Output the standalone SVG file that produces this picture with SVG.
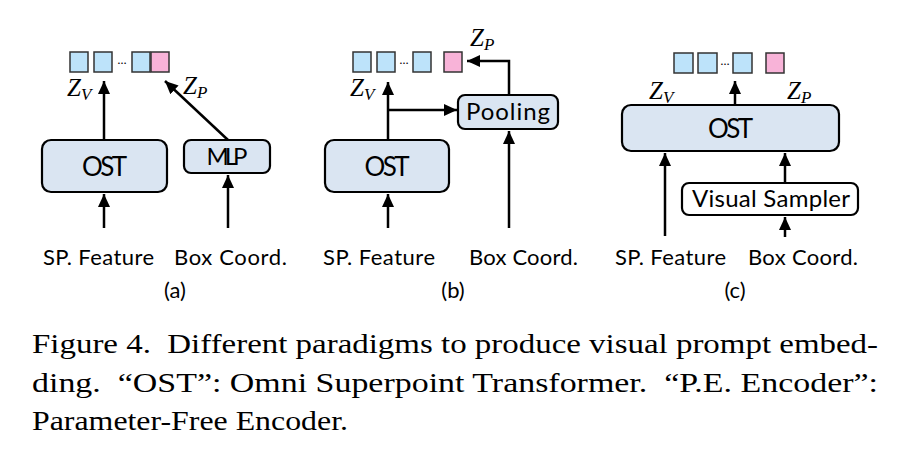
<svg xmlns="http://www.w3.org/2000/svg" width="907" height="466" viewBox="0 0 907 466">
<defs>
<marker id="ah" markerUnits="userSpaceOnUse" markerWidth="13" markerHeight="12" refX="13" refY="6" orient="auto">
<path d="M0,0 L13,6 L0,12 z" fill="#000"/>
</marker>
<style>
.box{fill:#dae5f2;stroke:#000;stroke-width:2.2}
.wbox{fill:#fff;stroke:#000;stroke-width:2.2}
.sq{fill:#bde3fa;stroke:#333;stroke-width:1.5}
.pk{fill:#f8b3d8;stroke:#333;stroke-width:1.5}
.ar{fill:none;stroke:#000;stroke-width:2.5;marker-end:url(#ah)}
.lbl{font-size:22px;fill:#000}
.big{font-size:26px;fill:#000;text-anchor:middle}
.mid{font-size:24px;fill:#000;text-anchor:middle}
.dots{font-size:12px;fill:#000;text-anchor:middle}
.z{font-style:italic;font-size:25px;fill:#000}
.zs{font-size:17px}
.cap{font-size:27px;fill:#000;white-space:pre}
</style>
</defs>

<!-- Panel (a) -->
<g id="a-tokens">
<rect class="sq" x="70" y="52" width="18" height="20"/>
<rect class="sq" x="94" y="52" width="18" height="20"/>
<text class="dots" font-family="Lato" x="122" y="64">…</text>
<rect class="sq" x="132" y="52" width="18" height="20"/>
<rect class="pk" x="151" y="52" width="18" height="20"/>
</g>
<g id="a-ost">
<rect class="box" x="42" y="140" width="125" height="52" rx="9"/>
<text class="big" font-family="Lato" x="104.5" y="175.5" textLength="45">OST</text>
</g>
<g id="a-mlp">
<rect class="box" x="184" y="140" width="86" height="33" rx="7"/>
<text class="mid" font-family="Lato" x="227" y="165" textLength="41">MLP</text>
</g>
<g id="a-labels" font-family="Lato">
<text class="z" font-family="Liberation Serif" x="67" y="96">Z<tspan class="zs" dy="4">V</tspan></text>
<text class="z" font-family="Liberation Serif" x="183" y="94">Z<tspan class="zs" dy="4">P</tspan></text>
<text class="lbl" x="43" y="265" textLength="111">SP. Feature</text>
<text class="lbl" x="174" y="265" textLength="113">Box Coord.</text>
<text class="lbl" x="175" y="298" text-anchor="middle">(a)</text>
</g>

<!-- Panel (b) -->
<g id="b-tokens">
<rect class="sq" x="353" y="52" width="18" height="20"/>
<rect class="sq" x="377" y="52" width="18" height="20"/>
<text class="dots" font-family="Lato" x="404" y="64">…</text>
<rect class="sq" x="413" y="52" width="18" height="20"/>
<rect class="pk" x="444" y="52" width="18" height="20"/>
</g>
<g id="b-ost">
<rect class="box" x="325" y="140" width="124" height="52" rx="9"/>
<text class="big" font-family="Lato" x="387" y="175.5" textLength="45">OST</text>
</g>
<g id="b-pooling">
<rect class="box" x="458" y="95" width="100" height="34" rx="7"/>
<text class="mid" font-family="Lato" x="508" y="120" textLength="84">Pooling</text>
</g>
<g id="b-labels" font-family="Lato">
<text class="z" font-family="Liberation Serif" x="350" y="96">Z<tspan class="zs" dy="4">V</tspan></text>
<text class="z" font-family="Liberation Serif" x="470" y="46">Z<tspan class="zs" dy="4">P</tspan></text>
<text class="lbl" x="323" y="265" textLength="112">SP. Feature</text>
<text class="lbl" x="469" y="265" textLength="109">Box Coord.</text>
<text class="lbl" x="453" y="298" text-anchor="middle">(b)</text>
</g>

<!-- Panel (c) -->
<g id="c-tokens">
<rect class="sq" x="674" y="53" width="19" height="20"/>
<rect class="sq" x="698" y="53" width="19" height="20"/>
<text class="dots" font-family="Lato" x="725" y="65">…</text>
<rect class="sq" x="733" y="53" width="19" height="20"/>
<rect class="pk" x="766" y="53" width="18" height="20"/>
</g>
<g id="c-ost">
<rect class="box" x="622" y="105" width="217" height="46" rx="9"/>
<text class="big" font-family="Lato" x="730.5" y="137.5" textLength="45">OST</text>
</g>
<g id="c-sampler">
<rect class="wbox" x="682" y="183" width="176" height="32" rx="7"/>
<text class="mid" font-family="Lato" x="771" y="207" textLength="158">Visual Sampler</text>
</g>
<g id="c-labels" font-family="Lato">
<text class="z" font-family="Liberation Serif" x="649" y="99">Z<tspan class="zs" dy="4">V</tspan></text>
<text class="z" font-family="Liberation Serif" x="787" y="99">Z<tspan class="zs" dy="4">P</tspan></text>
<text class="lbl" x="615" y="265" textLength="111">SP. Feature</text>
<text class="lbl" x="748" y="265" textLength="110">Box Coord.</text>
<text class="lbl" x="735" y="298" text-anchor="middle">(c)</text>
</g>

<g id="connectors">
<line class="ar" x1="104" y1="140" x2="104" y2="81"/>
<line class="ar" x1="104" y1="228" x2="104" y2="194"/>
<line class="ar" x1="228" y1="228" x2="228" y2="175"/>
<line class="ar" x1="228" y1="140" x2="165" y2="81"/>

<line class="ar" x1="388" y1="140" x2="388" y2="82"/>
<line class="ar" x1="388" y1="110" x2="457" y2="110"/>
<polyline class="ar" points="509,95 509,61 467,61"/>
<line class="ar" x1="388" y1="228" x2="388" y2="194"/>
<line class="ar" x1="509" y1="228" x2="509" y2="131"/>

<line class="ar" x1="735" y1="105" x2="735" y2="81"/>
<line class="ar" x1="665" y1="236" x2="665" y2="153"/>
<line class="ar" x1="785" y1="183" x2="785" y2="153"/>
<line class="ar" x1="785" y1="237" x2="785" y2="217"/>
</g>

<g id="caption">
<text class="cap" font-family="Liberation Serif" x="32" y="353" textLength="846" lengthAdjust="spacingAndGlyphs">Figure 4.  Different paradigms to produce visual prompt embed-</text>
<text class="cap" font-family="Liberation Serif" x="32" y="392" textLength="846" lengthAdjust="spacingAndGlyphs">ding.  “OST”: Omni Superpoint Transformer.  “P.E. Encoder”:</text>
<text class="cap" font-family="Liberation Serif" x="32" y="430" textLength="316" lengthAdjust="spacingAndGlyphs">Parameter-Free Encoder.</text>
</g>
</svg>
